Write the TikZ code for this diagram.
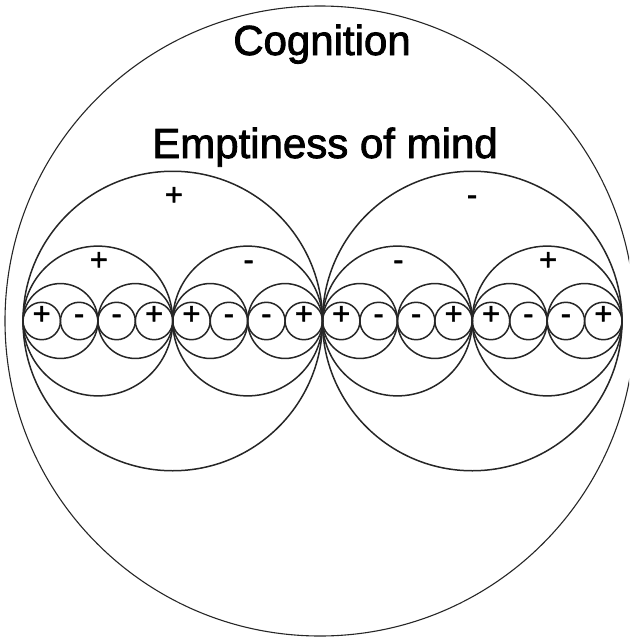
\documentclass[tikz,border=0pt]{standalone}
\usepackage{fontspec}
\setmainfont{Liberation Sans}
\newfontfamily\heavyfont{Liberation Sans}[FakeBold=1.4]
\newfontfamily\titlefont{Liberation Sans}[FakeBold=2]

\begin{document}
\begin{tikzpicture}[x=1pt,y=-1pt,
  ring/.style={draw=black!85,circle,line width=1.5pt,inner sep=0pt},
  sign/.style={font=\heavyfont\fontsize{31}{31}\selectfont,text height=0.62em,text depth=0pt},
  title/.style={font=\titlefont\fontsize{42}{42}\selectfont,anchor=base}
]
  \useasboundingbox (0,0) rectangle (629,637);
  \clip (0,0) rectangle (629,637);

  % whole mind
  \node[ring,line width=1.1pt,minimum size=630pt] (mind) at (320,321) {};
  \node[title] (cognition) at (322,55) {Cognition};
  \node[title] (emptiness) at (325,158) {Emptiness of mind};

  % two halves
  \node[ring,minimum size=299.5pt] (left) at (172.75,321) {};
  \node[ring,minimum size=299.5pt] (right) at (472.25,321) {};
  \node[sign] (left-sign) at (174,202) {+};
  \node[sign] (right-sign) at (472,202) {-};

  % quarters
  \foreach \s [count=\i from 0] in {+,-,-,+}
  {
    \node[ring,minimum size=149.76pt] (q\i) at ({97.88+149.76*\i},321) {};
    \node[sign] (q\i-sign) at ({98.88+149.76*\i},267) {\s};
  }

  % eighths
  \foreach \i in {0,...,7}
    \node[ring,minimum size=74.88pt] (e\i) at ({60.44+74.88*\i},321) {};

  % sixteenths
  \foreach \s [count=\i from 0] in {+,-,-,+,+,-,-,+,+,-,-,+,+,-,-,+}
    \node[ring,sign,minimum size=37.44pt] (c\i) at ({41.72+37.44*\i},321) {\s};
\end{tikzpicture}
\end{document}
